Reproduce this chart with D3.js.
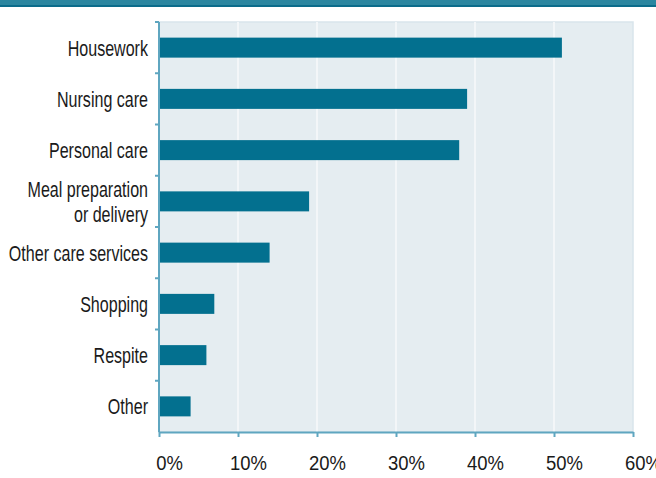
<!DOCTYPE html>
<html>
<head>
<meta charset="utf-8">
<script src="https://cdn.jsdelivr.net/npm/d3@7"></script>
<style>
  body { margin: 0; background: #fff; }
  svg text { font-family: "Liberation Sans", Arial, sans-serif; fill: #1a1a1a; }
</style>
</head>
<body>
<script>
// chart data
const categories = ["Housework", "Nursing care", "Personal care", "Meal preparation|or delivery",
  "Other care services", "Shopping", "Respite", "Other"];
const values = [51, 39, 38, 19, 14, 7, 6, 4];
const tickValues = [0, 10, 20, 30, 40, 50, 60];

const w = 656;
const h = 478;
const barColor = "#03708f";
const axisColor = "#5fa6c0";

const svg = d3.select("body").append("svg")
  .attr("width", w)
  .attr("height", h);

// header strip
svg.append("rect").attr("x", 0).attr("y", 0).attr("width", w).attr("height", 5).attr("fill", "#2b86a0");
svg.append("rect").attr("x", 0).attr("y", 5).attr("width", w).attr("height", 2).attr("fill", "#0b6c8b");

const xScale = d3.scaleLinear()
  .domain([0, 60])
  .range([159, 633]);

const yScale = d3.scaleBand()
  .domain(categories)
  .range([22, 432]);

const barH = 20;

// plot background
svg.append("rect")
  .attr("x", xScale(0))
  .attr("y", yScale.range()[0])
  .attr("width", xScale(60) - xScale(0))
  .attr("height", yScale.range()[1] - yScale.range()[0])
  .attr("fill", "#e5edf1")
  .attr("stroke", "#d9e5eb")
  .attr("stroke-width", 1.5);

// vertical grid lines
svg.append("g").selectAll("line")
  .data(tickValues.slice(1, -1))
  .enter()
  .append("line")
  .attr("x1", d => xScale(d))
  .attr("x2", d => xScale(d))
  .attr("y1", yScale.range()[0])
  .attr("y2", yScale.range()[1])
  .attr("stroke", "#f3f6f8")
  .attr("stroke-width", 2);

// bars
svg.append("g").selectAll("rect")
  .data(values)
  .enter()
  .append("rect")
  .attr("x", xScale(0))
  .attr("y", (d, i) => yScale(categories[i]) + (yScale.bandwidth() - barH) / 2)
  .attr("width", d => xScale(d) - xScale(0))
  .attr("height", barH)
  .attr("fill", barColor);

// bottom axis
const xAxis = svg.append("g")
  .attr("transform", `translate(0,${yScale.range()[1]})`)
  .call(d3.axisBottom(xScale).tickValues(tickValues).tickSize(5).tickSizeOuter(0).tickFormat(d => d + "%"));
xAxis.select(".domain").attr("stroke", axisColor).attr("stroke-width", 2);
xAxis.selectAll(".tick line").attr("stroke", axisColor).attr("stroke-width", 2);
// condensed look: squeeze the labels horizontally
xAxis.selectAll(".tick text")
  .attr("y", 0)
  .attr("dy", 0)
  .attr("transform", "translate(10,38) scale(0.88,1)")
  .style("font-size", "21px")
  .attr("fill", "#1a1a1a");

// left axis
const leftAxis = svg.append("g");
leftAxis.append("line")
  .attr("x1", xScale(0))
  .attr("x2", xScale(0))
  .attr("y1", yScale.range()[0])
  .attr("y2", yScale.range()[1])
  .attr("stroke", axisColor)
  .attr("stroke-width", 2);
leftAxis.selectAll("line.tk")
  .data(categories)
  .enter()
  .append("line")
  .attr("class", "tk")
  .attr("x1", xScale(0) - 4)
  .attr("x2", xScale(0))
  .attr("y1", d => yScale(d))
  .attr("y2", d => yScale(d))
  .attr("stroke", axisColor)
  .attr("stroke-width", 2);

// category labels
const labels = svg.append("g").selectAll("text")
  .data(categories)
  .enter()
  .append("text")
  .attr("transform", d => `translate(148,${yScale(d) + yScale.bandwidth() / 2}) scale(0.73,1)`)
  .attr("text-anchor", "end")
  .style("font-size", "22px");

labels.each(function(d) {
  const lines = d.split("|");
  const el = d3.select(this);
  lines.forEach((t, k) => {
    el.append("tspan")
      .attr("x", 0)
      .attr("dy", k === 0 ? (0.36 - (lines.length - 1) * 0.58) + "em" : "1.16em")
      .text(t);
  });
});
</script>
</body>
</html>
